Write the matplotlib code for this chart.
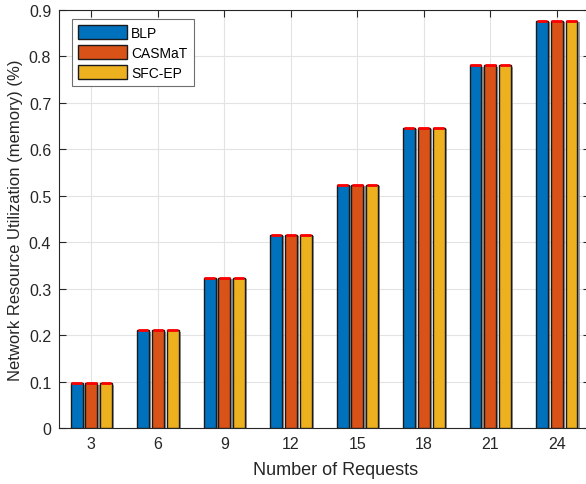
import numpy as np
import matplotlib
matplotlib.use("Agg")
import matplotlib.pyplot as plt
import matplotlib.patheffects as pe

plt.rcParams['font.family'] = ['Liberation Sans', 'DejaVu Sans']

requests = [3, 6, 9, 12, 15, 18, 21, 24]
series = ['BLP', 'CASMaT', 'SFC-EP']
blp = [0.097, 0.210, 0.324, 0.416, 0.524, 0.647, 0.781, 0.877]
casmat = [0.097, 0.210, 0.324, 0.416, 0.524, 0.647, 0.781, 0.877]
sfcep = [0.097, 0.210, 0.324, 0.416, 0.524, 0.647, 0.781, 0.877]
colors = ['#0072BD', '#D95319', '#EDB120']

fig = plt.figure(figsize=(5.86, 4.85), dpi=100)
# right edge of the box sits just past the image border, as in the original
ax = fig.add_axes([0.1015, 0.1155, 0.9053, 0.8618])

x = np.arange(1, len(requests) + 1)
pitch = 0.222
width = 0.18
shadow = [pe.SimplePatchShadow(offset=(1.6, -1.2), shadow_rgbFace='0.45', alpha=0.7), pe.Normal()]
for i, (name, vals) in enumerate(zip(series, [blp, casmat, sfcep])):
    xi = x + (i - 1) * pitch
    bars = ax.bar(xi, vals, width=width, color=colors[i], edgecolor='#1a1a1a',
                  linewidth=1.0, label=name, zorder=3)
    for b in bars:
        b.set_path_effects(shadow)
    ax.hlines(vals, xi - width / 2 + 0.01, xi + width / 2 - 0.01, color='red',
              linewidth=2.0, zorder=4)

ax.set_xlim(0.52, 8.5)
ax.set_ylim(0, 0.9)
ax.set_xticks(x)
ax.set_xticklabels(requests)
ax.set_yticks(np.arange(0, 0.91, 0.1))
ax.set_yticklabels(['0'] + ['%.1f' % v for v in np.arange(0.1, 0.91, 0.1)])
ax.tick_params(direction='in', length=5, width=0.8, labelsize=11.5, colors='#262626',
               top=True, right=True, pad=6)
ax.grid(True, color='#e3e3e3', linewidth=0.8, zorder=0)
ax.set_axisbelow(True)
for s in ax.spines.values():
    s.set_color('#262626')
    s.set_linewidth(0.8)

ax.set_xlabel('Number of Requests', fontsize=13, color='#262626', labelpad=7)
ax.xaxis.label.set_x(0.521)
ax.set_ylabel('Network Resource Utilization (memory) (%)', fontsize=12, color='#262626', labelpad=4)

leg = ax.legend(loc='upper left', bbox_to_anchor=(0.0236, 0.979), fontsize=10,
                fancybox=False, edgecolor='#6e6e6e', framealpha=1,
                handlelength=3.5, handleheight=1.2, handletextpad=0.3,
                labelspacing=0.38, borderpad=0.45, borderaxespad=0)
leg.get_frame().set_linewidth(0.8)
for h in leg.legend_handles:
    h.set_path_effects([])

fig.savefig('out.png', dpi=100)
